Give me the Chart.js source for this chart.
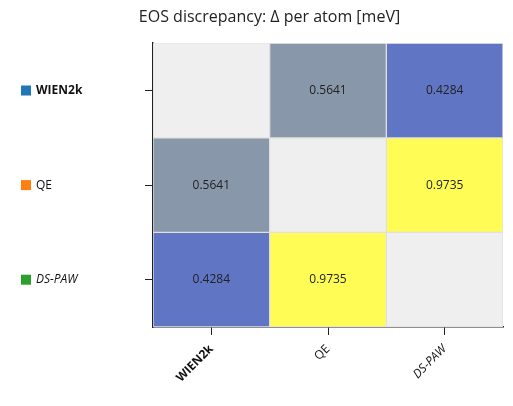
<!DOCTYPE html>
<html>
<head>
<meta charset="utf-8">
<script src="https://cdn.jsdelivr.net/npm/chart.js@4"></script>
<style>
  html, body { margin: 0; padding: 0; background: #fff; }
  #wrap { width: 513px; height: 406px; }
</style>
</head>
<body>
<div id="wrap"><canvas id="c" width="513" height="406"></canvas></div>
<script>
// ---- data ----
const codes = ['WIEN2k', 'QE', 'DS-PAW'];
const codeColors = ['#1f77b4', '#ff7f0e', '#2ca02c'];
const codeFontStyle = ['bold', 'normal', 'italic'];
const rowWIEN2k = [null, 0.5641, 0.4284];
const rowQE = [0.5641, null, 0.9735];
const rowDSPAW = [0.4284, 0.9735, null];
const rows = [rowWIEN2k, rowQE, rowDSPAW];
const titleText = 'EOS discrepancy: Δ per atom [meV]';

// colour scale
const allVals = rows.flat().filter(v => v !== null);
const vmin = Math.min(...allVals), vmax = Math.max(...allVals);
const lowRGB = [97, 117, 197], highRGB = [255, 253, 85];
function cellColor(v) {
  if (v === null) return '#efefef';
  const t = (v - vmin) / (vmax - vmin);
  const c = lowRGB.map((a, i) => Math.round(a + (highRGB[i] - a) * t));
  return `rgb(${c[0]},${c[1]},${c[2]})`;
}

const n = codes.length;
const datasets = rows.map((row, r) => ({
  label: codes[r],
  data: row.map(() => [n - 1 - r, n - r]),
  values: row,
  backgroundColor: row.map(cellColor),
  borderColor: '#e0e0e0',
  borderWidth: 1,
  borderSkipped: false,
  categoryPercentage: 1,
  barPercentage: 1
}));

const fontFam = '"Open Sans", "Noto Sans", sans-serif';

const cellLabels = {
  id: 'cellLabels',
  afterDatasetsDraw(chart) {
    const ctx = chart.ctx;
    ctx.save();
    ctx.font = `12px ${fontFam}`;
    ctx.fillStyle = '#222';
    ctx.textAlign = 'center';
    ctx.textBaseline = 'middle';
    chart.data.datasets.forEach((ds, di) => {
      const meta = chart.getDatasetMeta(di);
      meta.data.forEach((el, i) => {
        const v = ds.values[i];
        if (v === null) return;
        const p = el.getProps(['x', 'y', 'base'], true);
        ctx.fillText(v.toFixed(4), p.x, (p.y + p.base) / 2);
      });
    });
    ctx.restore();
  }
};

const legendSquares = {
  id: 'legendSquares',
  afterDraw(chart) {
    const ctx = chart.ctx;
    const ys = chart.scales.y;
    ctx.save();
    codes.forEach((c, r) => {
      const yy = ys.getPixelForValue(n - 1 - r + 0.5);
      ctx.fillStyle = codeColors[r];
      ctx.fillRect(21, yy - 5, 10, 10);
    });
    ctx.restore();
  }
};

new Chart(document.getElementById('c'), {
  type: 'bar',
  data: { labels: codes, datasets },
  plugins: [cellLabels, legendSquares],
  options: {
    responsive: false,
    animation: false,
    events: [],
    layout: { padding: { left: 36, right: 10, top: 0, bottom: 0 } },
    plugins: {
      legend: { display: false },
      tooltip: { enabled: false },
      title: {
        display: true,
        text: titleText,
        color: '#222',
        font: { family: fontFam, size: 16, weight: 'normal' },
        padding: { top: 8, bottom: 16 }
      }
    },
    scales: {
      x: {
        type: 'category',
        stacked: true,
        offset: true,
        grid: { display: true, offset: false, drawOnChartArea: false, drawTicks: true, tickLength: 8, color: '#222' },
        border: { display: true, color: '#222', width: 1.5 },
        ticks: {
          color: '#111',
          minRotation: 45,
          maxRotation: 45,
          padding: 7,
          font: (ctx) => ({ family: fontFam, size: 12,
            weight: codeFontStyle[ctx.index] === 'bold' ? 'bold' : 'normal',
            style: codeFontStyle[ctx.index] === 'italic' ? 'italic' : 'normal' })
        },
        afterFit(scale) { scale.height = 79; }
      },
      y: {
        type: 'linear',
        stacked: false,
        min: 0,
        max: n,
        grid: { display: true, drawOnChartArea: false, drawTicks: true, tickLength: 8, color: '#222' },
        border: { display: true, color: '#222', width: 1.5 },
        afterBuildTicks(scale) {
          scale.ticks = codes.map((c, r) => ({ value: n - 1 - r + 0.5 }));
        },
        ticks: {
          color: '#111',
          crossAlign: 'far',
          callback: (v) => codes[n - 1 - Math.floor(v)],
          font: (ctx) => {
            const r = ctx.tick ? n - 1 - Math.floor(ctx.tick.value) : 0;
            return { family: fontFam, size: 12,
              weight: codeFontStyle[r] === 'bold' ? 'bold' : 'normal',
              style: codeFontStyle[r] === 'italic' ? 'italic' : 'normal' };
          }
        },
        afterFit(scale) { scale.width = 117; }
      }
    }
  }
});
</script>
</body>
</html>
